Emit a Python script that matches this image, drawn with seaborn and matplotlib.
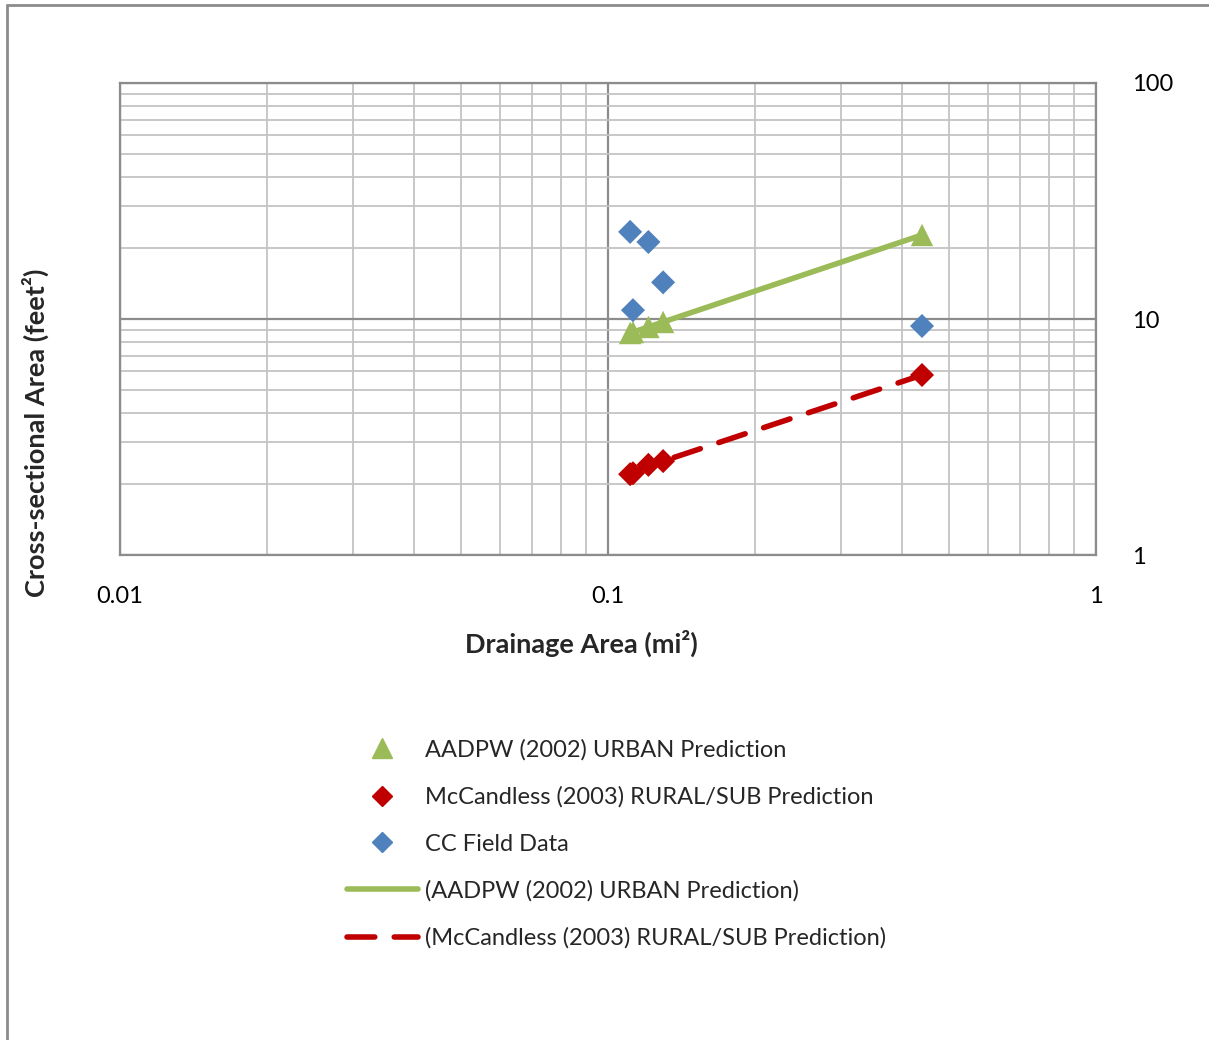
import matplotlib
matplotlib.use("Agg")
import matplotlib.pyplot as plt
from matplotlib.lines import Line2D
import seaborn as sns
import pandas as pd

# Drainage area (mi²) for each site
drainage_area = [0.111, 0.1125, 0.121, 0.1297, 0.44]
# Predicted cross-sectional areas (ft²)
urban_pred = [8.72, 8.80, 9.25, 9.71, 22.7]
rural_pred = [2.20, 2.22, 2.41, 2.50, 5.79]
# Measured field data (drainage area, cross-sectional area)
field_area = [0.111, 0.121, 0.1297, 0.1125, 0.44]
field_xs = [23.4, 21.2, 14.3, 10.9, 9.34]

labels = ["AADPW (2002) URBAN Prediction",
          "McCandless (2003) RURAL/SUB Prediction",
          "CC Field Data",
          "(AADPW (2002) URBAN Prediction)",
          "(McCandless (2003) RURAL/SUB Prediction)"]
x_ticks = [0.01, 0.1, 1]
x_tick_labels = ["0.01", "0.1", "1"]
y_ticks = [1, 10, 100]
y_tick_labels = ["1", "10", "100"]

GREEN = "#9BBB59"
RED = "#C00000"
BLUE = "#4F81BD"

sns.set_theme(style="white")
plt.rcParams["font.family"] = ["Lato", "DejaVu Sans"]

df = pd.DataFrame({"area": drainage_area, "urban": urban_pred, "rural": rural_pred})
field = pd.DataFrame({"area": field_area, "xs": field_xs})

fig = plt.figure(figsize=(12.09, 10.4), dpi=100)
ax = fig.add_axes([120 / 1209, 1 - 555 / 1040, (1096 - 120) / 1209, (555 - 83) / 1040])
ax.set_xscale("log")
ax.set_yscale("log")
ax.set_xlim(0.01, 1)
ax.set_ylim(1, 100)

# trend lines
sns.lineplot(data=df, x="area", y="urban", sort=False, ax=ax, color=GREEN,
             linewidth=4, solid_capstyle="round", zorder=3)
sns.lineplot(data=df, x="area", y="rural", sort=False, ax=ax, color=RED,
             linewidth=4, dashes=False, zorder=3)
ax.lines[-1].set_dashes([5, 3.5])
ax.lines[-1].set_dash_capstyle("round")

# markers
sns.scatterplot(data=df, x="area", y="urban", ax=ax, marker="^", s=260,
                color=GREEN, edgecolor="none", zorder=4)
sns.scatterplot(data=df, x="area", y="rural", ax=ax, marker="D", s=150,
                color=RED, edgecolor="none", zorder=4)
sns.scatterplot(data=field, x="area", y="xs", ax=ax, marker="D", s=150,
                color=BLUE, edgecolor="none", zorder=4)

ax.set_xlabel("")
ax.set_ylabel("")
ax.grid(True, which="major", color="#8c8c8c", linewidth=1.6)
ax.grid(True, which="minor", color="#c4c4c4", linewidth=1.3)
ax.set_axisbelow(True)
for sp in ax.spines.values():
    sp.set_color("#8c8c8c")
    sp.set_linewidth(1.6)

ax.set_xticks(x_ticks)
ax.set_xticklabels(x_tick_labels)
ax.set_yticks(y_ticks)
ax.set_yticklabels(y_tick_labels)
ax.yaxis.tick_right()
ax.tick_params(axis="both", which="both", length=0, labelsize=17, colors="black")
ax.tick_params(axis="x", pad=22)
ax.tick_params(axis="y", pad=26)

fig.text(35 / 1209, 1 - 433 / 1040, "Cross-sectional Area (feet²)", rotation=90,
         ha="center", va="center", fontsize=19.5, fontweight="bold")
fig.text(581 / 1209, 1 - 643 / 1040, "Drainage Area (mi²)",
         ha="center", va="center", fontsize=19.5, fontweight="bold")

handles = [
    Line2D([], [], linestyle="none", marker="^", markersize=14, color=GREEN),
    Line2D([], [], linestyle="none", marker="D", markersize=10, color=RED),
    Line2D([], [], linestyle="none", marker="D", markersize=10, color=BLUE),
    Line2D([], [], color=GREEN, linewidth=4, solid_capstyle="round"),
    Line2D([], [], color=RED, linewidth=4, dashes=[5, 3.5], dash_capstyle="round"),
]
fig.legend(handles, labels, loc="upper left", bbox_to_anchor=(347 / 1209, 1 - 739 / 1040),
           frameon=False, fontsize=17, handlelength=3.0, handletextpad=0.3,
           labelspacing=1.09, borderpad=0, borderaxespad=0)

# outer chart border (top and left edges)
fig.add_artist(Line2D([7 / 1209, 1.0], [1 - 5 / 1040, 1 - 5 / 1040],
                      transform=fig.transFigure, color="#8c8c8c", linewidth=2))
fig.add_artist(Line2D([7 / 1209, 7 / 1209], [0, 1 - 5 / 1040],
                      transform=fig.transFigure, color="#8c8c8c", linewidth=2))

fig.savefig("out.png", dpi=100, facecolor="white")
